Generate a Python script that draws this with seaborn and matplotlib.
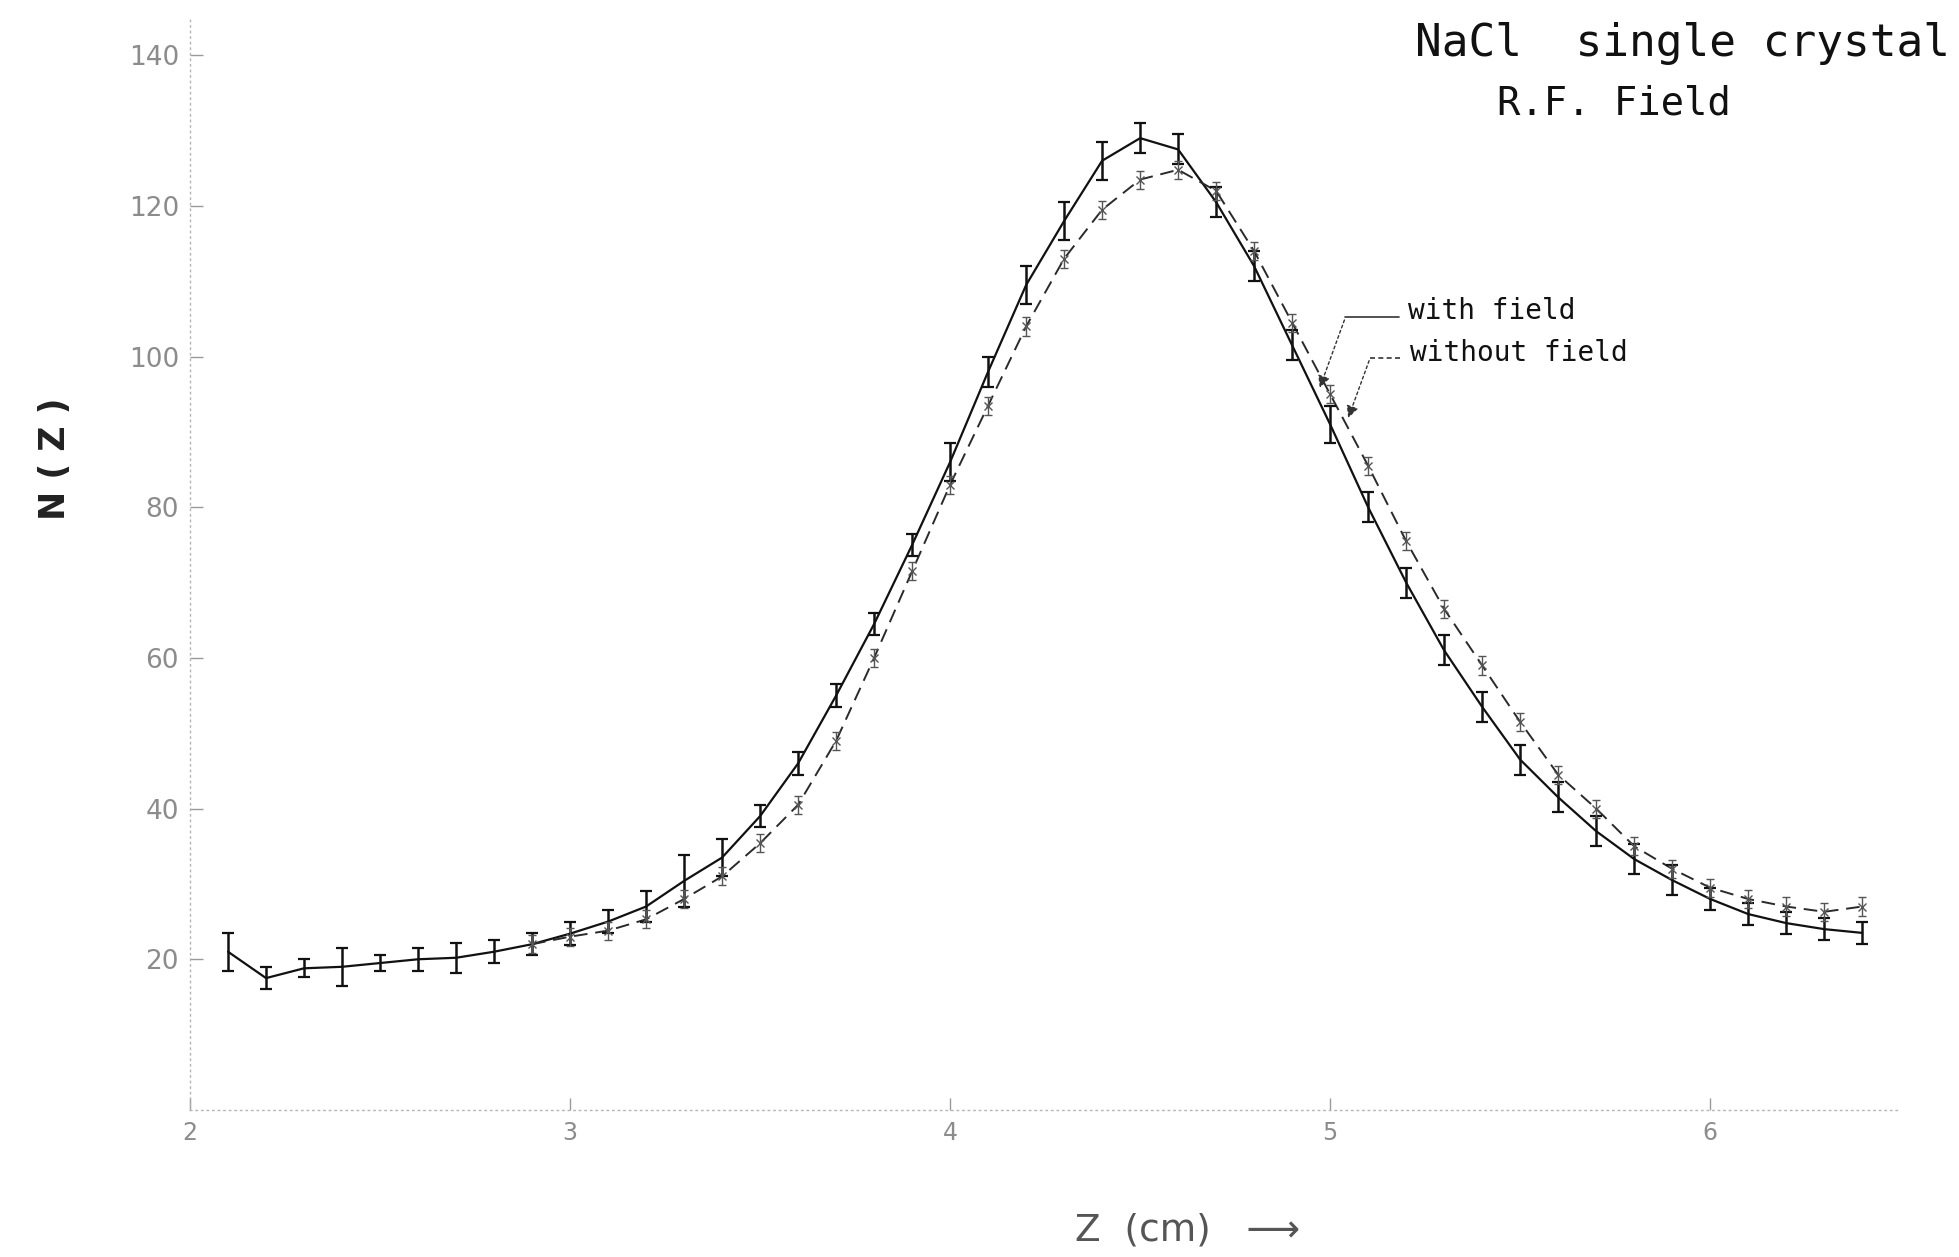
import numpy as np
import pandas as pd
import matplotlib
matplotlib.use("Agg")
import matplotlib.pyplot as plt
import seaborn as sns

# ---- data ----
z_with = [2.1, 2.2, 2.3, 2.4, 2.5, 2.6, 2.7, 2.8, 2.9, 3.0, 3.1, 3.2, 3.3, 3.4, 3.5,
          3.6, 3.7, 3.8, 3.9, 4.0, 4.1, 4.2, 4.3, 4.4, 4.5, 4.6, 4.7, 4.8, 4.9, 5.0,
          5.1, 5.2, 5.3, 5.4, 5.5, 5.6, 5.7, 5.8, 5.9, 6.0, 6.1, 6.2, 6.3, 6.4]
n_with = [21.0, 17.5, 18.8, 19.0, 19.5, 20.0, 20.2, 21.0, 22.0, 23.4, 25.0, 27.0, 30.4, 33.5, 39.0,
          46.0, 55.0, 64.5, 75.0, 86.0, 98.0, 109.5, 118.0, 126.0, 129.0, 127.5, 120.5, 112.0, 101.5, 91.0,
          80.0, 70.0, 61.0, 53.5, 46.5, 41.5, 37.0, 33.3, 30.5, 28.0, 26.0, 24.8, 24.0, 23.5]
err_with = [2.5, 1.5, 1.2, 2.5, 1.0, 1.5, 2.0, 1.5, 1.5, 1.5, 1.5, 2.0, 3.5, 2.5, 1.5,
            1.5, 1.5, 1.5, 1.5, 2.5, 2.0, 2.5, 2.5, 2.5, 2.0, 2.0, 2.0, 2.0, 2.0, 2.5,
            2.0, 2.0, 2.0, 2.0, 2.0, 2.0, 2.0, 2.0, 2.0, 1.5, 1.5, 1.5, 1.5, 1.5]

z_without = [2.9, 3.0, 3.1, 3.2, 3.3, 3.4, 3.5, 3.6, 3.7, 3.8, 3.9, 4.0, 4.1, 4.2, 4.3,
             4.4, 4.5, 4.6, 4.7, 4.8, 4.9, 5.0, 5.1, 5.2, 5.3, 5.4, 5.5, 5.6, 5.7, 5.8,
             5.9, 6.0, 6.1, 6.2, 6.3, 6.4]
n_without = [22.0, 23.0, 23.8, 25.3, 28.0, 31.0, 35.4, 40.5, 49.0, 60.0, 71.5, 83.0, 93.5, 104.0, 113.0,
             119.5, 123.5, 124.8, 122.0, 114.0, 104.5, 95.0, 85.5, 75.5, 66.5, 59.0, 51.5, 44.5, 40.0, 35.0,
             32.0, 29.5, 28.0, 27.0, 26.3, 27.0]
err_without = [1.2] * len(z_without)

x_ticks = [2, 3, 4, 5, 6]
y_ticks = [20, 40, 60, 80, 100, 120, 140]

df = pd.concat([
    pd.DataFrame({"Z": z_with, "N": n_with, "err": err_with, "series": "with field"}),
    pd.DataFrame({"Z": z_without, "N": n_without, "err": err_without, "series": "without field"}),
], ignore_index=True)

sns.set_theme(style="white")
plt.rcParams["font.family"] = ["DejaVu Sans"]
MONO = ["DejaVu Sans Mono"]

fig = plt.figure(figsize=(19.59, 12.57), dpi=100)
ax = fig.add_axes([0.097, 0.117, 0.873, 0.869])

sub_w = df[df.series == "with field"]
sub_wo = df[df.series == "without field"]

sns.lineplot(data=sub_w, x="Z", y="N", ax=ax, color="#111111", lw=1.6,
             estimator=None, sort=True, legend=False)
sns.lineplot(data=sub_wo, x="Z", y="N", ax=ax, color="#2a2a2a", lw=1.4,
             estimator=None, sort=True, legend=False, dashes=False)
ax.lines[-1].set_dashes([7, 4])

ax.errorbar(sub_w["Z"], sub_w["N"], yerr=sub_w["err"], fmt="none",
            ecolor="#111111", elinewidth=1.8, capsize=4, capthick=1.6)
ax.errorbar(sub_wo["Z"], sub_wo["N"], yerr=sub_wo["err"], fmt="x",
            ms=6, mew=1.0, color="#555555", ecolor="#555555",
            elinewidth=1.0, capsize=3, capthick=1.0)

ax.set_xlim(2, 6.5)
ax.set_ylim(0, 145)
ax.set_xticks(x_ticks)
ax.set_xticklabels([str(t) for t in x_ticks])
ax.set_yticks(y_ticks)
ax.set_yticklabels([str(t) for t in y_ticks])
ax.tick_params(axis="both", direction="in", length=9, width=1.0,
               colors="#9a9a9a", labelcolor="#8c8c8c")
ax.tick_params(axis="x", pad=8, labelsize=17)
ax.tick_params(axis="y", pad=8, labelsize=19)
ax.tick_params(left=True, bottom=True)

for side in ["top", "right"]:
    ax.spines[side].set_visible(False)
for side in ["left", "bottom"]:
    ax.spines[side].set_color("#b5b5b5")
    ax.spines[side].set_linewidth(1.0)
    ax.spines[side].set_linestyle((0, (1, 3)))

ax.set_xlabel("")
ax.set_ylabel("")
fig.text(0.606, 0.021, "Z  (cm)   \u27f6", fontsize=27, color="#555555",
         ha="center", va="center")
fig.text(0.028, 0.635, "N ( Z )", fontsize=25, color="#222222", rotation=90,
         ha="center", va="center", fontweight="bold")

fig.text(0.7225, 0.965, "NaCl  single crystal", fontsize=32, color="#111111",
         ha="left", va="center", family=MONO)
fig.text(0.764, 0.918, "R.F. Field", fontsize=28, color="#111111",
         ha="left", va="center", family=MONO)

# legend with leader arrows
ax.text(5.205, 106.0, "with field", fontsize=20, color="#111111",
        ha="left", va="center", family=MONO)
ax.text(5.21, 100.5, "without field", fontsize=20, color="#111111",
        ha="left", va="center", family=MONO)
ax.plot([5.04, 5.18], [105.2, 105.2], color="#333333", lw=1.2, ls="-")
ax.plot([5.105, 5.19], [99.8, 99.8], color="#333333", lw=1.2, ls=(0, (3, 2)))
ax.annotate("", xy=(4.97, 95.5), xytext=(5.04, 105.2),
            arrowprops=dict(arrowstyle="-|>", color="#333333", lw=1.0,
                            ls=(0, (2, 2)), mutation_scale=18))
ax.annotate("", xy=(5.045, 91.5), xytext=(5.105, 99.8),
            arrowprops=dict(arrowstyle="-|>", color="#333333", lw=1.0,
                            ls=(0, (2, 2)), mutation_scale=18))

fig.savefig("out.png", dpi=100, facecolor="white")
